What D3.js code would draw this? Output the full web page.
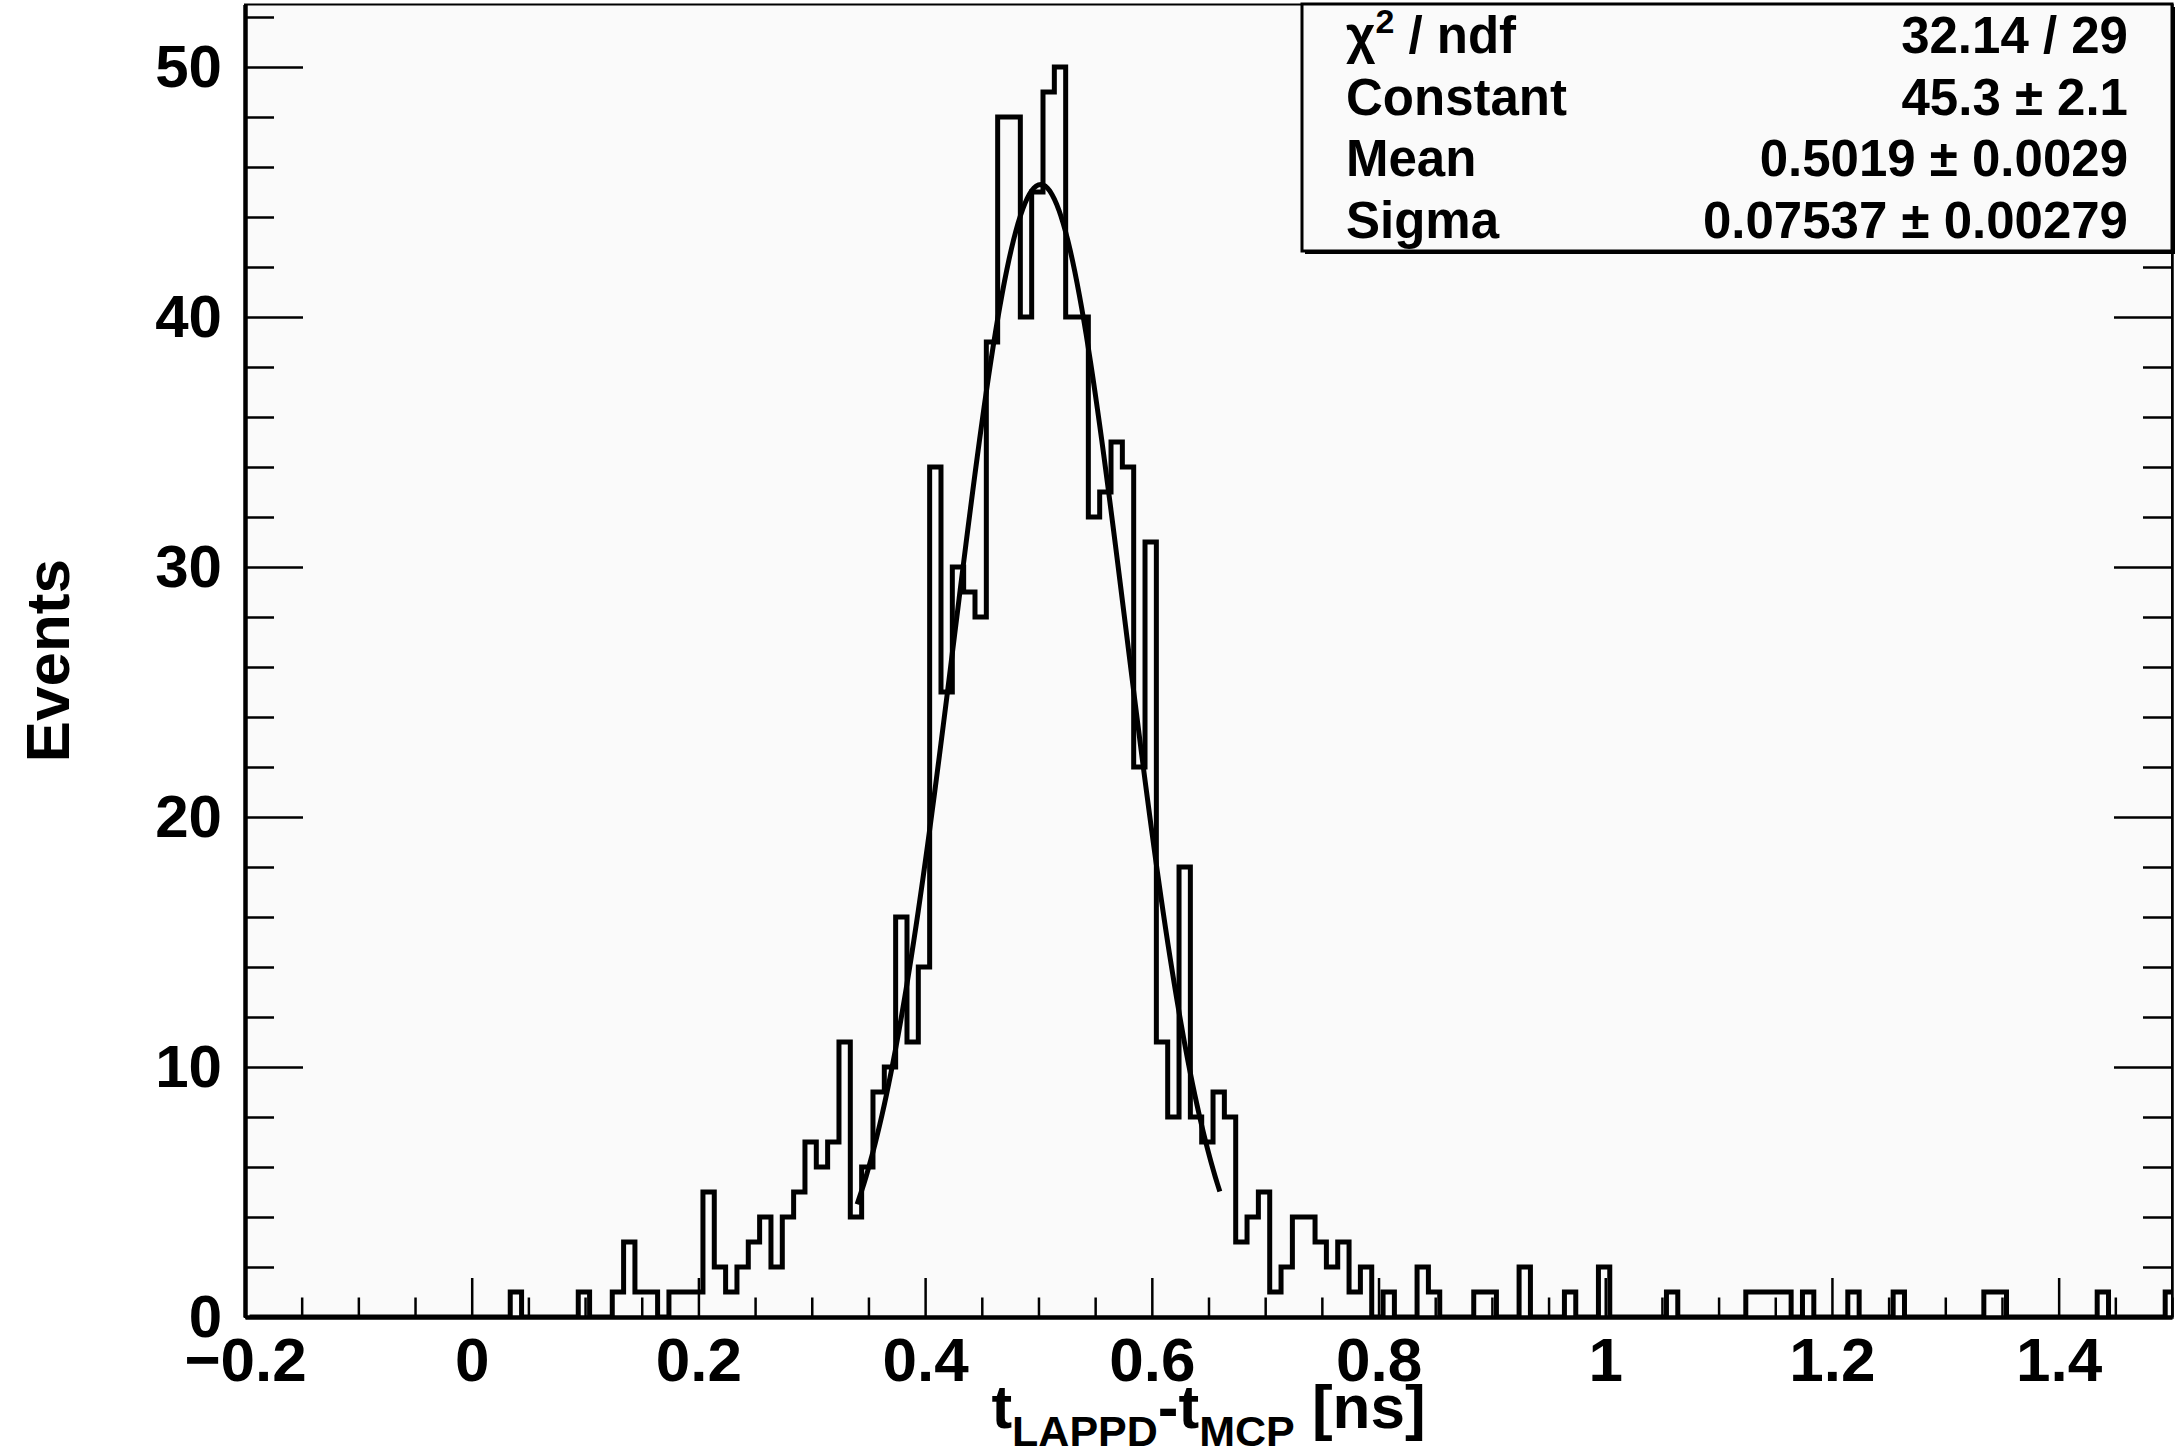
<!DOCTYPE html>
<html>
  <head>
    <meta charset="UTF-8">
    <script src="https://d3js.org/d3.v7.min.js" charset="utf-8"></script>
    <title>LAPPD - MCP timing</title>
    <style>
      body { margin: 0; background: #ffffff; }
      svg text { font-family: "Liberation Sans", Arial, Helvetica, sans-serif; font-weight: bold; fill: #000; }
    </style>
  </head>
  <body>
    <svg class="chart"></svg>
    <script type="text/javascript">

     var width = 2176,
         height = 1456,
         margin = {left: 245, right: 4, top: 4.5, bottom: 139};

     // histogram: 170 bins, 0.01 ns wide, starting at -0.2
     var binStart = -0.2,
         binWidth = 0.01,
         binShift = 0.004;

     var counts = [
       0, 0, 0, 0, 0, 0, 0, 0, 0, 0,      // -0.20 .. -0.11
       0, 0, 0, 0, 0, 0, 0, 0, 0, 0,      // -0.10 .. -0.01
       0, 0, 0, 1, 0, 0, 0, 0, 0, 1,      //  0.00 ..  0.09
       0, 0, 1, 3, 1, 1, 0, 1, 1, 1,      //  0.10 ..  0.19
       5, 2, 1, 2, 3, 4, 2, 4, 5, 7,      //  0.20 ..  0.29
       6, 7, 11, 4, 6, 9, 10, 16, 11, 14, //  0.30 ..  0.39
       34, 25, 30, 29, 28, 39, 48, 48, 40, 45, // 0.40 .. 0.49
       49, 50, 40, 40, 32, 33, 35, 34, 22, 31, // 0.50 .. 0.59
       11, 8, 18, 8, 7, 9, 8, 3, 4, 5,    //  0.60 ..  0.69
       1, 2, 4, 4, 3, 2, 3, 1, 2, 0,      //  0.70 ..  0.79
       1, 0, 0, 2, 1, 0, 0, 0, 1, 1,      //  0.80 ..  0.89
       0, 0, 2, 0, 0, 0, 1, 0, 0, 2,      //  0.90 ..  0.99
       0, 0, 0, 0, 0, 1, 0, 0, 0, 0,      //  1.00 ..  1.09
       0, 0, 1, 1, 1, 1, 0, 1, 0, 0,      //  1.10 ..  1.19
       0, 1, 0, 0, 0, 1, 0, 0, 0, 0,      //  1.20 ..  1.29
       0, 0, 0, 1, 1, 0, 0, 0, 0, 0,      //  1.30 ..  1.39
       0, 0, 0, 1, 0, 0, 0, 0, 0, 1       //  1.40 ..  1.49
     ];

     // gaussian fit
     var fitConstant = 45.3,
         fitMean = 0.5019,
         fitSigma = 0.07537,
         fitRange = [0.34, 0.66];

     var statLabels = ["χ2 / ndf", "Constant", "Mean", "Sigma"];
     var statValues = ["32.14 / 29", "45.3 ± 2.1", "0.5019 ± 0.0029", "0.07537 ± 0.00279"];

     var xMajor = [-0.2, 0, 0.2, 0.4, 0.6, 0.8, 1, 1.2, 1.4];
     var xDomain = [-0.2, 1.5];
     var yDomain = [0, 52.5];
     var yMajor = [0, 10, 20, 30, 40, 50];

     var chart = d3.select(".chart")
                   .attr("width", width)
                   .attr("height", height);

     var x = d3.scaleLinear().domain(xDomain).range([margin.left, width - margin.right]);
     var y = d3.scaleLinear().domain(yDomain).range([height - margin.bottom, margin.top]);

     var x0 = x.range()[0], x1 = x.range()[1],
         y0 = y.range()[0], y1 = y.range()[1];

     // frame
     chart.append("rect")
          .attr("x", x0).attr("y", y1)
          .attr("width", x1 - x0).attr("height", y0 - y1)
          .attr("fill", "#fafafa")
          .attr("stroke", "#000").attr("stroke-width", 2);

     chart.append("clipPath").attr("id", "frame")
          .append("rect")
          .attr("x", x0).attr("y", y1 - 2)
          .attr("width", x1 - x0).attr("height", y0 - y1 + 4);

     var xMinor = d3.range(0, 35).map(function(i) { return +(-0.2 + i * 0.05).toFixed(2); })
                    .filter(function(v) { return xMajor.indexOf(v) < 0; });
     var yMinor = d3.range(0, 27).map(function(i) { return i * 2; })
                    .filter(function(v) { return yMajor.indexOf(v) < 0; });

     var fmt = d3.format("");

     // x axis ticks (pointing up) and labels
     chart.append("g")
          .attr("transform", "translate(0," + y0 + ")")
          .call(d3.axisBottom(x).tickValues(xMinor).tickSize(-19.5).tickFormat(""))
          .call(function(g) { g.select(".domain").remove(); g.selectAll(".tick line").attr("stroke-width", 2.5); });

     var xAxis = chart.append("g")
          .attr("transform", "translate(0," + y0 + ")")
          .call(d3.axisBottom(x).tickValues(xMajor).tickSizeInner(-39).tickSizeOuter(0)
                  .tickPadding(20).tickFormat(function(d) { return fmt(d); }));
     xAxis.select(".domain").attr("stroke-width", 4.5);
     xAxis.selectAll(".tick line").attr("stroke-width", 2.5);
     xAxis.selectAll("text").attr("font-size", 62).attr("font-family", null);

     // y axis ticks (pointing right) and labels
     chart.append("g")
          .attr("transform", "translate(" + x0 + ",0)")
          .call(d3.axisLeft(y).tickValues(yMinor).tickSize(-29).tickFormat(""))
          .call(function(g) { g.select(".domain").remove(); g.selectAll(".tick line").attr("stroke-width", 2.5); });

     var yAxis = chart.append("g")
          .attr("transform", "translate(" + x0 + ",0)")
          .call(d3.axisLeft(y).tickValues(yMajor).tickSizeInner(-58).tickSizeOuter(0)
                  .tickPadding(23).tickFormat(function(d) { return fmt(d); }));
     yAxis.select(".domain").attr("stroke-width", 4.5);
     yAxis.selectAll(".tick line").attr("stroke-width", 2.5);
     yAxis.selectAll("text").attr("font-size", 60).attr("font-family", null);

     // mirrored ticks on the right side
     chart.append("g")
          .attr("transform", "translate(" + x1 + ",0)")
          .call(d3.axisRight(y).tickValues(yMinor).tickSize(-29).tickFormat(""))
          .call(function(g) { g.select(".domain").remove(); g.selectAll(".tick line").attr("stroke-width", 2.5); });
     chart.append("g")
          .attr("transform", "translate(" + x1 + ",0)")
          .call(d3.axisRight(y).tickValues(yMajor).tickSize(-58).tickFormat(""))
          .call(function(g) { g.select(".domain").attr("stroke-width", 2.5); g.selectAll(".tick line").attr("stroke-width", 2.5); });

     // histogram outline
     var steps = [[binStart + binShift, 0]];
     counts.forEach(function(c, i) {
         var lo = binStart + binShift + i * binWidth;
         steps.push([lo, c]);
         steps.push([lo + binWidth, c]);
     });
     steps.push([binStart + binShift + counts.length * binWidth, 0]);

     var line = d3.line()
                  .x(function(d) { return x(d[0]); })
                  .y(function(d) { return y(d[1]); });

     chart.append("path")
          .datum(steps)
          .attr("clip-path", "url(#frame)")
          .attr("d", line)
          .attr("fill", "none")
          .attr("stroke", "#000")
          .attr("stroke-width", 5)
          .attr("stroke-linejoin", "miter");

     // fit curve
     var fitPts = d3.range(fitRange[0], fitRange[1] + 1e-9, 0.002).map(function(t) {
         var z = (t - fitMean) / fitSigma;
         return [t, fitConstant * Math.exp(-0.5 * z * z)];
     });

     chart.append("path")
          .datum(fitPts)
          .attr("d", line)
          .attr("fill", "none")
          .attr("stroke", "#000")
          .attr("stroke-width", 5);

     // axis titles
     chart.append("text")
          .attr("transform", "translate(69," + ((y0 + y1) / 2) + ") rotate(-90)")
          .attr("text-anchor", "middle")
          .attr("font-size", 62)
          .text("Events");

     var xt = chart.append("text")
          .attr("x", (x0 + x1) / 2)
          .attr("y", 1428)
          .attr("text-anchor", "middle")
          .attr("font-size", 62);
     xt.append("tspan").text("t");
     xt.append("tspan").attr("font-size", 43).attr("dy", 18).text("LAPPD");
     xt.append("tspan").attr("dy", -18).text("-t");
     xt.append("tspan").attr("font-size", 43).attr("dy", 18).text("MCP");
     xt.append("tspan").attr("dy", -18).text(" [ns]");

     // stats box
     var box = {x: 1302, y: 4, w: 870, h: 247};
     chart.append("rect")
          .attr("x", box.x + 3).attr("y", box.y + 3)
          .attr("width", box.w).attr("height", box.h)
          .attr("fill", "#000");
     chart.append("rect")
          .attr("x", box.x).attr("y", box.y)
          .attr("width", box.w).attr("height", box.h)
          .attr("fill", "#fafafa")
          .attr("stroke", "#000").attr("stroke-width", 3);

     var rowH = box.h / statLabels.length;
     statLabels.forEach(function(lab, i) {
         var by = box.y + rowH * (i + 0.5) + 18;
         var t = chart.append("text")
                      .attr("x", 1346).attr("y", by)
                      .attr("font-size", 51);
         if (i === 0) {
             t.append("tspan").text("χ");
             t.append("tspan").attr("font-size", 34).attr("dy", -20).text("2");
             t.append("tspan").attr("dy", 20).text(" / ndf");
         } else {
             t.text(lab);
         }
         chart.append("text")
              .attr("x", 2128).attr("y", by)
              .attr("text-anchor", "end")
              .attr("font-size", 51)
              .text(statValues[i]);
     });

    </script>
  </body>
</html>
